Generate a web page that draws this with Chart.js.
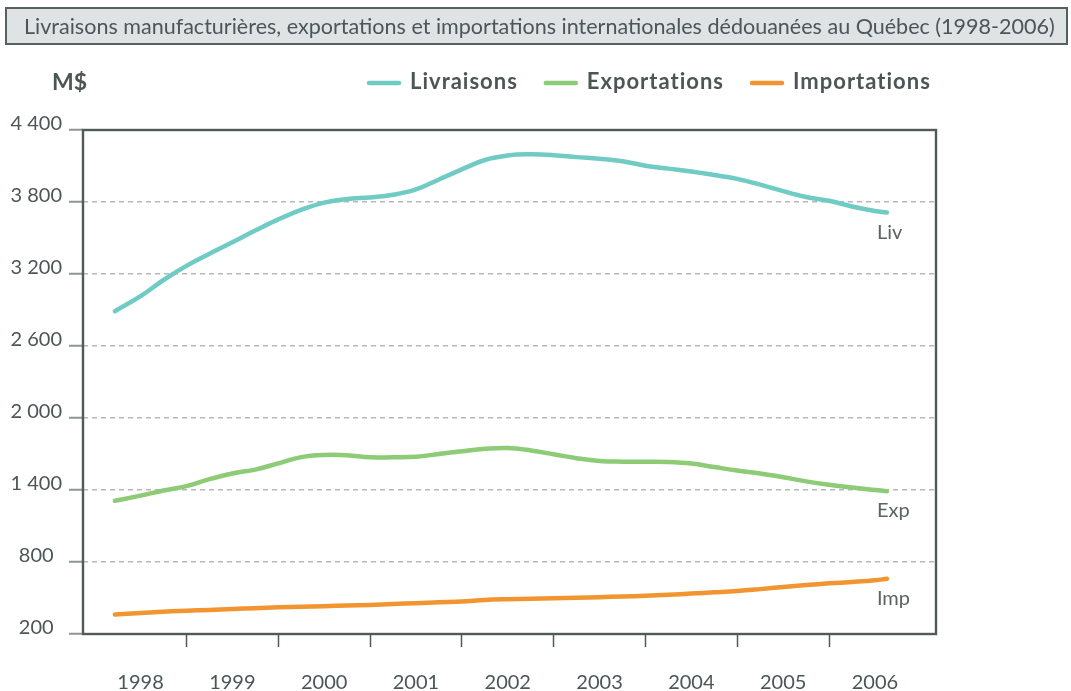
<!DOCTYPE html>
<html><head><meta charset="utf-8">
<script src="https://cdn.jsdelivr.net/npm/chart.js@4.4.0/dist/chart.umd.min.js"></script>
<style>html,body{margin:0;padding:0;background:#fff;overflow:hidden}#wrap{width:1071px;height:691px;position:relative}</style>
</head><body><div id="wrap"><canvas id="c" width="1071" height="691"></canvas></div>
<script>
const chartTitle = "Livraisons manufacturières, exportations et importations internationales dédouanées au Québec (1998-2006)";
const unitLabel = "M$";
const years = [1998, 1999, 2000, 2001, 2002, 2003, 2004, 2005, 2006];
const yTicks = [200, 800, 1400, 2000, 2600, 3200, 3800, 4400];
const seriesNames = ["Livraisons", "Exportations", "Importations"];
const endLabels = ["Liv", "Exp", "Imp"];
const xPositions = [1998.22, 1998.5, 1998.75, 1999, 1999.25, 1999.5, 1999.75, 2000, 2000.25, 2000.5, 2000.75, 2001, 2001.25, 2001.5, 2001.75, 2002, 2002.25, 2002.5, 2002.75, 2003, 2003.25, 2003.5, 2003.75, 2004, 2004.25, 2004.5, 2004.75, 2005, 2005.25, 2005.5, 2005.75, 2006, 2006.25, 2006.5, 2006.63];
const livraisons = [2890, 3015, 3150, 3268, 3368, 3465, 3562, 3655, 3735, 3795, 3825, 3838, 3860, 3905, 3988, 4072, 4150, 4188, 4197, 4190, 4174, 4160, 4140, 4102, 4078, 4055, 4025, 3993, 3945, 3890, 3842, 3810, 3763, 3725, 3712];
const exportations = [1310, 1353, 1396, 1432, 1490, 1538, 1570, 1622, 1674, 1692, 1690, 1672, 1673, 1677, 1700, 1723, 1743, 1750, 1730, 1698, 1665, 1642, 1636, 1635, 1633, 1620, 1591, 1562, 1538, 1507, 1472, 1444, 1420, 1400, 1390];
const importations = [362, 374, 386, 394, 401, 408, 415, 422, 427, 432, 437, 442, 450, 457, 464, 470, 484, 490, 494, 497, 502, 507, 512, 518, 527, 537, 547, 558, 574, 592, 608, 622, 634, 648, 660];
const colors = ["#70cbc4", "#8dcb76", "#f29530"];

const TXT = "#4c5657";
const FONT = "Lato, 'Open Sans', sans-serif";

function pts(vals){ return xPositions.map((x,i)=>({x:x, y:vals[i]})); }
function fmt(v){ return String(v).replace(/\B(?=(\d{3})+(?!\d))/g, " "); }

const deco = {
  id: 'deco',
  beforeDraw(chart){
    const c = chart.ctx; c.save();
    c.fillStyle = '#fff'; c.fillRect(0,0,chart.width,chart.height);
    // title box
    c.fillStyle = '#dfe3e3'; c.fillRect(6,8,1061,36);
    c.strokeStyle = '#56605f'; c.lineWidth = 2; c.strokeRect(6,8,1061,36);
    let fs = 20;
    c.font = fs + "px " + FONT;
    const w = c.measureText(chartTitle).width;
    fs = fs * 1031 / w;
    c.font = fs.toFixed(2) + "px " + FONT;
    c.fillStyle = TXT; c.textBaseline = 'middle'; c.textAlign = 'left';
    c.fillText(chartTitle, 24, 27);
    // unit
    c.font = "bold 23px " + FONT;
    c.fillText(unitLabel, 52, 83);
    // legend
    let x = 367;
    c.font = "bold 22px " + FONT;
    if ('letterSpacing' in c) c.letterSpacing = '1px';
    chart.data.datasets.forEach((ds,i)=>{
      c.strokeStyle = ds.borderColor; c.lineWidth = 4.5; c.lineCap = 'round';
      c.beginPath(); c.moveTo(x+2, 83); c.lineTo(x+32, 83); c.stroke();
      x += 43;
      c.fillStyle = TXT;
      c.fillText(ds.label, x, 82);
      x += c.measureText(ds.label).width + 26;
    });
    if ('letterSpacing' in c) c.letterSpacing = '0px';
    c.restore();
  },
  afterDraw(chart){
    const c = chart.ctx, a = chart.chartArea; c.save();
    c.strokeStyle = '#4f5a5a'; c.lineWidth = 2.4;
    c.strokeRect(a.left, a.top, a.right - a.left, a.bottom - a.top);
    c.font = "20px " + FONT; c.fillStyle = '#5b6363'; c.textBaseline = 'alphabetic'; c.textAlign = 'left';
    chart.data.datasets.forEach((ds,i)=>{
      const meta = chart.getDatasetMeta(i);
      const p = meta.data[meta.data.length-1];
      c.fillText(endLabels[i], p.x - 10, p.y + 26);
    });
    c.restore();
  }
};

new Chart(document.getElementById('c'), {
  type: 'line',
  data: {
    datasets: [livraisons, exportations, importations].map((v,i)=>({
      label: seriesNames[i], data: pts(v), borderColor: colors[i], backgroundColor: colors[i],
      borderWidth: 4.5, pointRadius: 0, tension: 0.4, borderCapStyle: 'round', borderJoinStyle: 'round', fill: false
    }))
  },
  options: {
    responsive: false, animation: false, devicePixelRatio: 1,
    layout: { padding: { left: 0, top: 130, right: 135, bottom: 0 } },
    plugins: { legend: { display: false }, tooltip: { enabled: false }, title: { display: false } },
    scales: {
      x: {
        type: 'linear', min: 1997.873, max: 2007.165,
        afterBuildTicks: (s) => {
          const t = [];
          years.forEach(y => { if (y > years[0]) t.push({value: y}); t.push({value: y + 0.5}); });
          s.ticks = t;
        },
        afterFit: (s) => { s.height = 57; },
        ticks: {
          autoSkip: false, maxRotation: 0, minRotation: 0, padding: 24,
          font: { family: FONT, size: 20 }, color: TXT,
          callback: (v) => Number.isInteger(v) ? '' : String(Math.floor(v))
        },
        grid: {
          drawOnChartArea: false, tickLength: 13, tickWidth: 1.5,
          tickColor: (ctx) => (ctx.tick && Number.isInteger(ctx.tick.value)) ? '#4f5a5a' : 'rgba(0,0,0,0)'
        },
        border: { display: false }
      },
      y: {
        type: 'linear', min: 200, max: 4400,
        afterBuildTicks: (s) => { s.ticks = yTicks.map(v => ({value: v})); },
        afterFit: (s) => { s.width = 83; },
        ticks: {
          font: { family: FONT, size: 20 }, color: TXT, padding: 7, crossAlign: 'center', labelOffset: -6,
          callback: (v) => fmt(v)
        },
        grid: {
          color: (ctx) => (ctx.tick && (ctx.tick.value === 200 || ctx.tick.value === 4400)) ? 'rgba(0,0,0,0)' : '#b7b7b7',
          lineWidth: 1.5, tickLength: 14, tickWidth: 2, tickColor: '#8e9494'
        },
        border: { display: false, dash: [5, 4] }
      }
    }
  },
  plugins: [deco]
});
</script></body></html>
